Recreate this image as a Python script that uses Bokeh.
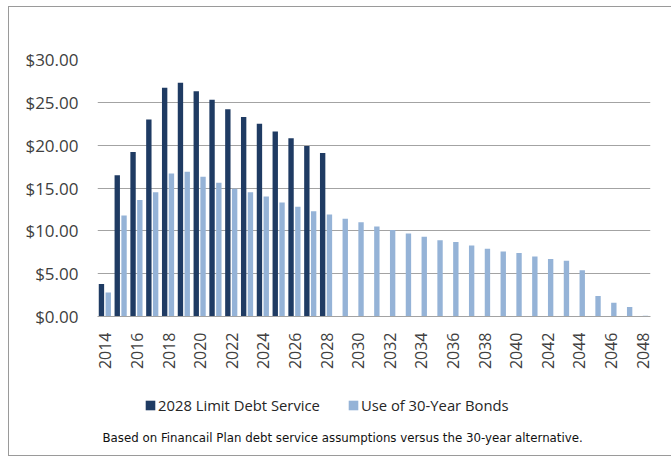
import math
from bokeh.plotting import figure
from bokeh.layouts import column
from bokeh.models import (ColumnDataSource, Range1d, FixedTicker, NumeralTickFormatter,
                          Legend, LegendItem, Label)
from bokeh.transform import dodge
from bokeh.embed import file_html
from bokeh.resources import INLINE

# Annual debt service, in dollars
years_limit = list(range(2014, 2029))
limit_2028 = [3.8, 16.5, 19.2, 23.0, 26.7, 27.3, 26.3, 25.3, 24.2, 23.3, 22.5, 21.6, 20.8, 19.9, 19.1]

years_bonds = list(range(2014, 2049))
bonds_30yr = [2.8, 11.8, 13.6, 14.5, 16.7, 16.9, 16.3, 15.6, 14.9, 14.5, 14.0, 13.3, 12.8, 12.3, 11.9,
              11.4, 11.0, 10.5, 10.1, 9.7, 9.3, 8.9, 8.7, 8.3, 7.9, 7.6, 7.4, 7.0, 6.7, 6.5, 5.4,
              2.4, 1.6, 1.1, 0.1]

year_ticks = list(range(2014, 2049, 2))
value_ticks = [0, 5, 10, 15, 20, 25, 30]

series_names = ["2028 Limit Debt Service", "Use of 30-Year Bonds"]
footnote = "Based on Financail Plan debt service assumptions versus the 30-year alternative."

DARK = "#1F3B63"
LIGHT = "#95B3D7"
GRID = "#a3a3a3"
BOX = "#9a9a9a"
FONT = "Open Sans"

src_limit = ColumnDataSource(dict(year=years_limit, value=limit_2028))
src_bonds = ColumnDataSource(dict(year=years_bonds, value=bonds_30yr))

# ---- main bar chart ----
p = figure(width=671, height=380,
           x_range=Range1d(2013.5, 2048.5), y_range=Range1d(0, 30),
           output_backend="svg", toolbar_location=None,
           min_border_left=97, min_border_right=21, min_border_top=59, min_border_bottom=64)
p.outline_line_color = None
p.background_fill_color = None
p.border_fill_color = None

# side-by-side bars within each year slot
r1 = p.vbar(x=dodge("year", -0.25), top="value", source=src_limit, width=0.34, bottom=0,
            fill_color=DARK, line_color=None)
r2 = p.vbar(x=dodge("year", 0.18), top="value", source=src_bonds, width=0.34, bottom=0,
            fill_color=LIGHT, line_color=None)

p.xgrid.grid_line_color = None
p.ygrid.grid_line_color = GRID
p.ygrid.grid_line_width = 1
p.ygrid.ticker = FixedTicker(ticks=value_ticks)

p.yaxis.ticker = FixedTicker(ticks=value_ticks)
p.yaxis.formatter = NumeralTickFormatter(format="$0.00")
p.yaxis.axis_line_color = None
p.yaxis.major_tick_line_color = None
p.yaxis.minor_tick_line_color = None
p.yaxis.major_label_standoff = 13
p.yaxis.major_label_text_font = FONT
p.yaxis.major_label_text_font_size = "17px"
p.yaxis.major_label_text_color = "#404040"

p.xaxis.ticker = FixedTicker(ticks=year_ticks)
p.xaxis.axis_line_color = GRID
p.xaxis.major_tick_line_color = None
p.xaxis.minor_tick_line_color = None
p.xaxis.major_tick_out = 0
p.xaxis.major_label_orientation = math.pi / 2
p.xaxis.major_label_standoff = 16
p.xaxis.major_label_text_font = FONT
p.xaxis.major_label_text_font_size = "16px"
p.xaxis.major_label_text_color = "#404040"

# ---- strip below the chart: legend and footnote ----
# its frame lines up with the chart frame (x 97..650 px), ranges are in page pixels
q = figure(width=671, height=76, x_range=Range1d(97, 650), y_range=Range1d(76, 0),
           output_backend="svg", toolbar_location=None,
           x_axis_location=None, y_axis_location=None,
           min_border=0, min_border_left=0, min_border_right=0,
           min_border_top=0, min_border_bottom=0)
q.outline_line_color = None
q.background_fill_color = None
q.border_fill_color = None
q.grid.visible = False

# legend swatches (the bars themselves sit off-canvas)
key1 = q.quad(left=[-1000], right=[-999], bottom=[0], top=[0], fill_color=DARK, line_color=None)
key2 = q.quad(left=[-1000], right=[-999], bottom=[0], top=[0], fill_color=LIGHT, line_color=None)

legend = Legend(items=[LegendItem(label=series_names[0], renderers=[key1]),
                       LegendItem(label=series_names[1], renderers=[key2])],
                orientation="horizontal", location=(47, 41),
                glyph_width=12, glyph_height=12, label_standoff=2, spacing=27,
                padding=0, margin=0, border_line_color=None, background_fill_alpha=0,
                label_text_font=FONT, label_text_font_size="14.8px", label_text_color="#262626")
q.add_layout(legend)

q.add_layout(Label(x=102, y=57, text=footnote, text_align="left", text_baseline="middle",
                   text_font="DejaVu Sans", text_font_size="11.8px", text_color="#111111"))

# thin grey frame around the whole chart, painted behind the transparent canvases
line = f"linear-gradient({BOX}, {BOX})"
layout = column(p, q, spacing=0, styles={
    "background": (f"{line} 8px 6px / 1px 450px no-repeat, "
                   f"{line} 8px 6px / 663px 1px no-repeat, "
                   f"{line} 8px 455px / 663px 1px no-repeat, #ffffff"),
})

open("out.html", "w").write(file_html(layout, INLINE))
